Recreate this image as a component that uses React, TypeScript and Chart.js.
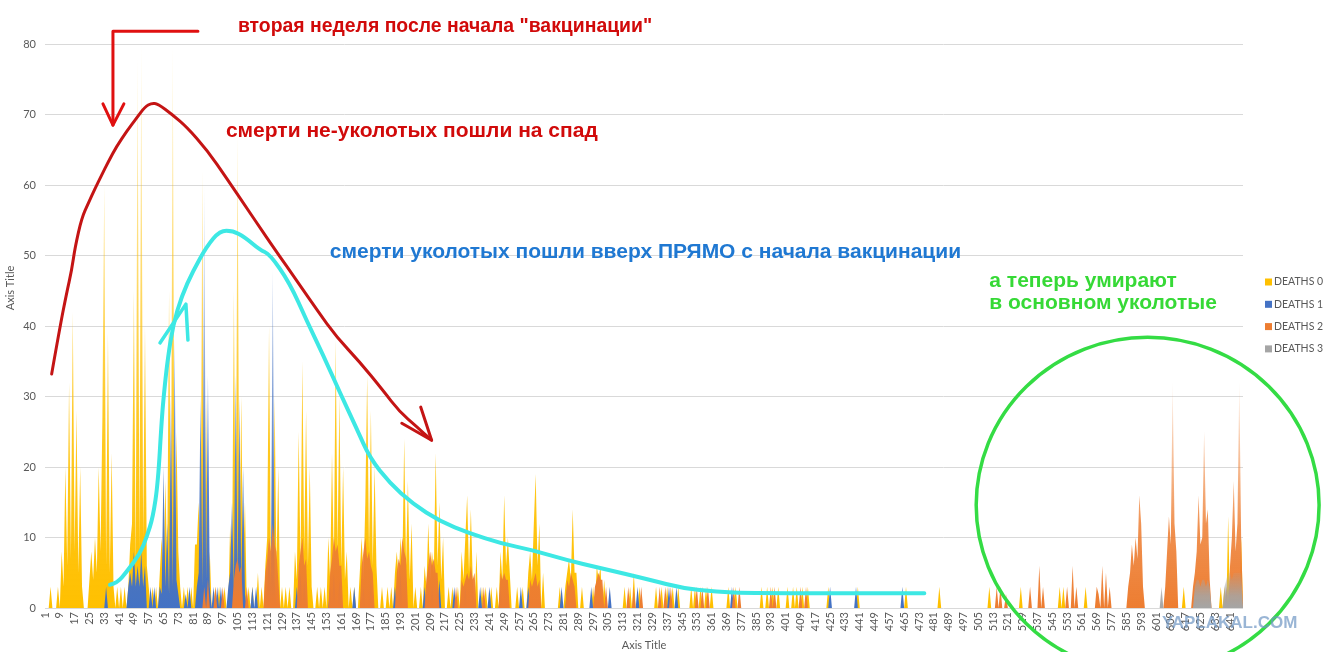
import { useEffect, useRef } from 'react'
import Chart from 'chart.js/auto'

// days 1..648 on the category axis
const dayCount = 648
const categories = Array.from({ length: dayCount }, (_, i) => String(i + 1))

const seriesNames = ['DEATHS 0', 'DEATHS 1', 'DEATHS 2', 'DEATHS 3']
const seriesColors = ['#FFC000', '#4472C4', '#ED7D31', '#A5A5A5']

// [day, deaths] - every day not listed is 0
const deaths0: [number, number][] = [
  [4, 3], [8, 3], [10, 8], [11, 3], [12, 20], [13, 6], [14, 32], [15, 7], [16, 42], [17, 8], [18, 28], [19, 5], [20, 20], [21, 3],
  [25, 4], [26, 8], [27, 4], [28, 10], [29, 5], [30, 20], [31, 8], [32, 27], [33, 60], [34, 6], [35, 39], [36, 5], [37, 22], [38, 3],
  [40, 3], [42, 3], [44, 3], [46, 3],
  [47, 9], [48, 12], [49, 45], [50, 6], [51, 78], [52, 8], [53, 80], [54, 10], [55, 40], [56, 6], [57, 3],
  [59, 3], [61, 3],
  [63, 5], [64, 10], [65, 4], [66, 18], [67, 6], [68, 45], [69, 8], [70, 80], [71, 6], [72, 25], [73, 8], [74, 3],
  [76, 3], [78, 3], [80, 3], [82, 9],
  [83, 9], [84, 15], [85, 4], [86, 62], [87, 3], [88, 30], [89, 3], [90, 8],
  [93, 3], [95, 3], [98, 3],
  [101, 12], [102, 4], [103, 45], [104, 6], [105, 67], [106, 5], [107, 30], [108, 6], [109, 15],
  [111, 3], [113, 3], [116, 5], [118, 3],
  [120, 6], [121, 10], [122, 40], [123, 6], [125, 30], [126, 6], [127, 20],
  [129, 3], [131, 3], [133, 3],
  [136, 8], [137, 4], [138, 25], [139, 6], [140, 35], [141, 8], [142, 28], [143, 6], [144, 20], [145, 3],
  [148, 3], [150, 3], [152, 3],
  [154, 10], [155, 4], [156, 22], [157, 6], [158, 38], [159, 8], [160, 30], [161, 6], [162, 20], [163, 4], [164, 8],
  [166, 3], [168, 3],
  [171, 5], [172, 10], [173, 4], [174, 15], [175, 33], [176, 8], [177, 28], [178, 6], [179, 20], [180, 6],
  [183, 3], [186, 3], [188, 3],
  [190, 5], [191, 8], [192, 4], [193, 10], [194, 6], [195, 24], [196, 6], [197, 18], [198, 4], [199, 12],
  [201, 3],
  [204, 3], [206, 6], [207, 3], [208, 12], [209, 4], [210, 8], [211, 5], [212, 22], [213, 6], [214, 15], [215, 4], [216, 10],
  [219, 3], [221, 3], [224, 3], [226, 8], [227, 4], [228, 10], [229, 16], [230, 5], [231, 14], [232, 4], [234, 8],
  [237, 3], [239, 3], [242, 3],
  [245, 3], [247, 8], [248, 4], [249, 16], [250, 6], [251, 10], [252, 5],
  [256, 3], [259, 3],
  [262, 5], [263, 8], [264, 4], [265, 12], [266, 19], [267, 6], [268, 12], [270, 5],
  [279, 3], [282, 3],
  [283, 5], [284, 7], [285, 4], [286, 14], [287, 5], [288, 5],
  [291, 3],
  [297, 3], [299, 6], [300, 4], [301, 6], [303, 4],
  [314, 3], [317, 3], [319, 5], [322, 3],
  [331, 3], [334, 3], [337, 3], [340, 3], [343, 3],
  [350, 3], [352, 3], [355, 3], [358, 3], [361, 3],
  [370, 3], [374, 3],
  [388, 3], [391, 3], [394, 3], [397, 3],
  [402, 3], [405, 3], [407, 3], [410, 3], [413, 3],
  [424, 3], [440, 3], [466, 3], [484, 3],
  [511, 3], [528, 3], [549, 3], [551, 3], [563, 3],
  [616, 3],
  [636, 3], [638, 3], [640, 13], [647, 10],
]

const deaths1: [number, number][] = [
  [34, 3],
  [46, 3], [47, 5], [48, 3], [49, 8], [50, 3], [51, 6], [52, 3], [53, 8], [54, 3], [55, 6],
  [58, 3], [60, 3],
  [63, 3], [64, 2], [65, 20], [66, 3], [67, 12], [68, 2], [69, 30], [70, 3], [71, 38], [72, 4], [73, 2],
  [77, 2], [79, 3],
  [83, 3], [84, 5], [85, 30], [86, 3], [87, 60], [88, 4], [89, 33], [90, 3],
  [92, 3], [94, 3], [96, 3],
  [100, 3], [101, 5], [102, 15], [103, 3], [104, 33], [105, 4], [106, 30], [107, 3], [108, 20], [109, 2],
  [113, 3], [115, 3],
  [121, 3], [122, 8], [123, 3], [124, 48], [125, 4],
  [137, 3], [139, 5], [141, 4],
  [155, 3], [157, 5], [160, 4],
  [168, 3], [173, 3], [177, 4],
  [190, 3], [193, 5],
  [206, 3], [210, 3], [214, 4],
  [222, 3], [228, 3],
  [236, 3], [241, 3],
  [247, 3],
  [258, 3], [262, 3],
  [280, 3], [283, 3],
  [296, 3], [306, 3],
  [321, 3],
  [338, 3], [342, 3],
  [372, 3],
  [425, 3], [439, 3], [464, 3],
]

const deaths2: [number, number][] = [
  [87, 3], [89, 4],
  [93, 3], [97, 3],
  [103, 4], [104, 6], [105, 7], [106, 5], [107, 6],
  [110, 3],
  [120, 5], [121, 7], [122, 10], [123, 8], [124, 12], [125, 9], [126, 8], [127, 4],
  [138, 6], [139, 8], [140, 10], [141, 6], [142, 7],
  [155, 5], [156, 7], [157, 10], [158, 8], [159, 9], [160, 6], [161, 6],
  [172, 6], [173, 8], [174, 10], [175, 7], [176, 8], [177, 6], [178, 5],
  [191, 5], [192, 7], [193, 6], [194, 10], [195, 8], [196, 7],
  [207, 4], [208, 6], [209, 8], [210, 6], [211, 7], [212, 5], [213, 5],
  [223, 3], [226, 4], [227, 3], [228, 4], [229, 5], [230, 4], [231, 6], [232, 4], [233, 5],
  [238, 3],
  [247, 5], [248, 4], [249, 5], [250, 4], [251, 4],
  [263, 4], [264, 3], [265, 4], [266, 5], [267, 3], [268, 4],
  [283, 4], [284, 3], [285, 5], [286, 4], [287, 3],
  [298, 3], [299, 4], [300, 5], [301, 4], [302, 4], [304, 3],
  [316, 3], [319, 3], [323, 3],
  [333, 3], [336, 3], [339, 3],
  [353, 3], [356, 3], [359, 3],
  [373, 3], [376, 3],
  [393, 3], [395, 3],
  [409, 3], [412, 3],
  [515, 3], [517, 3], [520, 2],
  [533, 3], [538, 6], [540, 3],
  [553, 3], [556, 6], [558, 3],
  [569, 3], [570, 2], [572, 6], [574, 5], [576, 3],
  [586, 3], [587, 5], [588, 9], [589, 6], [590, 10], [591, 7], [592, 16], [593, 12], [594, 3],
  [606, 3], [607, 8], [608, 13], [609, 9], [610, 32], [611, 12], [612, 8],
  [621, 3], [622, 5], [623, 8], [624, 16], [625, 9], [626, 10], [627, 25], [628, 12], [629, 14], [630, 4],
  [639, 3], [641, 6], [642, 10], [643, 18], [644, 8], [645, 12], [646, 32], [647, 10],
]

const deaths3: [number, number][] = [
  [604, 3],
  [622, 3], [623, 4], [624, 4], [625, 3], [626, 4], [627, 4], [628, 3], [629, 4], [630, 3],
  [638, 3], [639, 4], [640, 5], [641, 5], [642, 4], [643, 5], [644, 5], [645, 5], [646, 5], [647, 5],
]

const seriesSpikes = [deaths0, deaths1, deaths2, deaths3]

// hand-drawn notes, as [day, value] so they follow the axes
const redCurve: [number, number][] = [
  [4.6, 33.2], [9.1, 39.9], [12.7, 44.7], [15.4, 47.9], [17.2, 51.1], [20.8, 55.3], [24.4, 57.4],
  [28.0, 59.5], [31.6, 61.4], [35.2, 63.3], [39.7, 65.5], [45.1, 67.6], [50.5, 69.5], [55.0, 71.1],
  [58.5, 71.6], [62.0, 71.5], [70.1, 69.9], [77.6, 68.2], [88.4, 65.0], [99.2, 60.9], [110.0, 56.7],
  [117.0, 54.0], [124.0, 51.3], [138.6, 45.8], [147.8, 42.3], [158.6, 38.4], [171.0, 34.9],
  [183.4, 30.9], [192.6, 27.8], [201.8, 25.7], [209.8, 23.8],
]
const redArrowHead: [number, number][] = [[193.7, 26.2], [209.8, 23.8], [203.9, 28.5]]
const redPointer: [number, number][] = [[83.6, 81.8], [37.7, 81.8], [37.7, 68.5]]
const redPointerHead: [number, number][] = [[32.3, 71.5], [37.7, 68.5], [43.6, 71.5]]

const cyanCurve: [number, number][] = [
  [36.1, 3.3], [39.9, 3.5], [45.3, 5.2], [52.3, 7.7], [56.0, 10.1], [59.3, 12.9], [62.0, 17.7],
  [64.1, 27.1], [65.8, 31.9], [67.4, 35.5], [70.1, 40.1], [74.9, 44.3], [80.9, 47.8], [88.4, 51.3],
  [95.4, 53.5], [102.5, 53.5], [108.9, 52.6], [117.0, 50.8], [122.4, 50.2], [133.2, 46.1],
  [142.4, 40.7], [151.0, 36.0], [160.2, 30.6], [169.4, 25.4], [176.4, 21.3], [187.2, 17.7],
  [199.6, 14.8], [214.2, 12.3], [230.4, 10.6], [246.5, 9.2], [264.4, 8.2], [282.7, 6.8],
  [300.5, 5.7], [327.5, 4.0], [345.3, 2.8], [363.7, 2.3], [381.5, 2.1], [475.9, 2.1],
]
const cyanArrow: [number, number][] = [[63.1, 37.6], [77.1, 43.1], [78.2, 38.0]]

// green ellipse: centre day/value and radii in days/values
const greenRing = { day: 596.5, value: 14.6, rDays: 92.6, rValue: 23.8 }

const notes = [
  { text: 'вторая неделя после начала "вакцинации"', day: 105.2, value: 81.7, color: '#d10a0a', size: 19.4 },
  { text: 'смерти не-уколотых пошли на спад', day: 98.7, value: 66.8, color: '#d10a0a', size: 21 },
  { text: 'смерти уколотых пошли вверх ПРЯМО с начала вакцинации', day: 154.8, value: 49.7, color: '#1f78d2', size: 21 },
  { text: 'а теперь умирают', day: 511, value: 45.5, color: '#36d936', size: 21 },
  { text: 'в основном уколотые', day: 511, value: 42.4, color: '#36d936', size: 21 },
]

const tickFont = { family: 'Lato', size: 11 }
const tickColor = '#595959'

function toDense(spikes: [number, number][]) {
  const out = new Array(dayCount).fill(0)
  for (const [d, v] of spikes) out[d - 1] = v
  return out
}

function hexA(hex: string, a: number) {
  const n = parseInt(hex.slice(1), 16)
  return `rgba(${(n >> 16) & 255},${(n >> 8) & 255},${n & 255},${a})`
}

function smoothPath(ctx: CanvasRenderingContext2D, pts: number[][]) {
  ctx.beginPath()
  ctx.moveTo(pts[0][0], pts[0][1])
  for (let i = 1; i < pts.length - 1; i++) {
    const mx = (pts[i][0] + pts[i + 1][0]) / 2
    const my = (pts[i][1] + pts[i + 1][1]) / 2
    ctx.quadraticCurveTo(pts[i][0], pts[i][1], mx, my)
  }
  const last = pts[pts.length - 1]
  ctx.lineTo(last[0], last[1])
  ctx.stroke()
}

function polyline(ctx: CanvasRenderingContext2D, pts: number[][]) {
  ctx.beginPath()
  pts.forEach((p, i) => (i ? ctx.lineTo(p[0], p[1]) : ctx.moveTo(p[0], p[1])))
  ctx.stroke()
}

const overlayPlugin = {
  id: 'overlay',
  afterDraw(chart: any) {
    const { ctx, scales } = chart
    const xs = scales.x
    const ys = scales.y
    const toPx = (p: [number, number]) => [xs.getPixelForValue(p[0] - 1), ys.getPixelForValue(p[1])]

    ctx.save()

    // y axis title
    ctx.fillStyle = tickColor
    ctx.font = '11px Lato'
    ctx.textAlign = 'center'
    ctx.textBaseline = 'middle'
    ctx.translate(10, 288)
    ctx.rotate(-Math.PI / 2)
    ctx.fillText('Axis Title', 0, 0)
    ctx.setTransform(chart.currentDevicePixelRatio, 0, 0, chart.currentDevicePixelRatio, 0, 0)

    // legend
    ctx.textAlign = 'left'
    ctx.font = '10.5px Lato'
    seriesNames.forEach((name, i) => {
      const cy = 282 + i * 22.3
      ctx.fillStyle = seriesColors[i]
      ctx.fillRect(1265, cy - 3.5, 7, 7)
      ctx.fillStyle = tickColor
      ctx.fillText(name, 1274, cy)
    })

    ctx.lineCap = 'round'
    ctx.lineJoin = 'round'

    // red curve and pointers
    ctx.strokeStyle = '#c41414'
    ctx.lineWidth = 3
    smoothPath(ctx, redCurve.map(toPx))
    polyline(ctx, redArrowHead.map(toPx))
    ctx.strokeStyle = '#e01010'
    polyline(ctx, redPointer.map(toPx))
    polyline(ctx, redPointerHead.map(toPx))

    // cyan curve
    ctx.strokeStyle = '#3de8e4'
    ctx.lineWidth = 4
    smoothPath(ctx, cyanCurve.map(toPx))
    ctx.lineWidth = 3.5
    polyline(ctx, cyanArrow.map(toPx))

    // green ring
    const [gx, gy] = toPx([greenRing.day, greenRing.value])
    const rx = Math.abs(xs.getPixelForValue(greenRing.day - 1 + greenRing.rDays) - gx)
    const ry = Math.abs(ys.getPixelForValue(greenRing.value + greenRing.rValue) - gy)
    ctx.strokeStyle = '#34dc44'
    ctx.lineWidth = 3.5
    ctx.beginPath()
    ctx.ellipse(gx, gy, rx, ry, 0, 0, Math.PI * 2)
    ctx.stroke()

    // notes
    ctx.textBaseline = 'alphabetic'
    notes.forEach((n) => {
      const [tx, ty] = toPx([n.day, n.value])
      ctx.fillStyle = n.color
      ctx.font = `bold ${n.size}px "Liberation Sans", Arial, sans-serif`
      ctx.fillText(n.text, tx, ty)
    })

    // watermark
    ctx.font = 'bold 17px "Liberation Sans", Arial, sans-serif'
    ctx.fillStyle = 'rgba(110,150,195,0.7)'
    ctx.fillText('YAPLAKAL.COM', 1162, 628)

    ctx.restore()
  },
}

export default function App() {
  const chartRef = useRef<HTMLCanvasElement | null>(null)

  useEffect(() => {
    if (!chartRef.current) return
    const seriesMax = seriesSpikes.map((s) => Math.max(...s.map((p) => p[1])))

    const chart = new Chart(chartRef.current, {
      type: 'line',
      data: {
        labels: categories,
        datasets: seriesSpikes.map((spikes, i) => ({
          label: seriesNames[i],
          data: toDense(spikes),
          fill: 'origin',
          borderWidth: 0,
          pointRadius: 0,
          tension: 0,
          order: -i,
          backgroundColor: (c: any) => {
            const { chart: ch } = c
            if (!ch.chartArea) return seriesColors[i]
            const y0 = ch.scales.y.getPixelForValue(0)
            const y1 = ch.scales.y.getPixelForValue(seriesMax[i])
            const g = ch.ctx.createLinearGradient(0, y0, 0, y1)
            g.addColorStop(0, hexA(seriesColors[i], 1))
            g.addColorStop(0.35, hexA(seriesColors[i], 0.85))
            g.addColorStop(1, hexA(seriesColors[i], 0.12))
            return g
          },
        })),
      },
      options: {
        animation: false,
        responsive: true,
        maintainAspectRatio: false,
        events: [],
        layout: { padding: { top: 44, right: 84, left: 0, bottom: 0 } },
        plugins: {
          legend: { display: false },
          tooltip: { enabled: false },
        },
        scales: {
          x: {
            offset: false,
            grid: { display: false, drawTicks: false },
            border: { display: false },
            ticks: {
              autoSkip: false,
              minRotation: 90,
              maxRotation: 90,
              padding: 4,
              color: tickColor,
              font: tickFont,
              callback: (_v: any, i: number) => (i % 8 === 0 ? categories[i] : ''),
            },
            title: { display: true, text: 'Axis Title', color: tickColor, font: tickFont, padding: 0 },
            afterFit: (s: any) => {
              s.height = 44
            },
          },
          y: {
            min: 0,
            max: 80,
            ticks: { stepSize: 10, padding: 9, color: tickColor, font: tickFont },
            grid: { color: '#d9d9d9', drawTicks: false },
            border: { display: false },
            afterFit: (s: any) => {
              s.width = 45
            },
          },
        },
      },
      plugins: [overlayPlugin],
    } as any)

    return () => {
      chart.destroy()
    }
  }, [])

  return (
    <div style={{ position: 'fixed', left: 0, top: 0, width: 1327, height: 652, background: '#fff' }}>
      <canvas ref={chartRef} />
    </div>
  )
}
